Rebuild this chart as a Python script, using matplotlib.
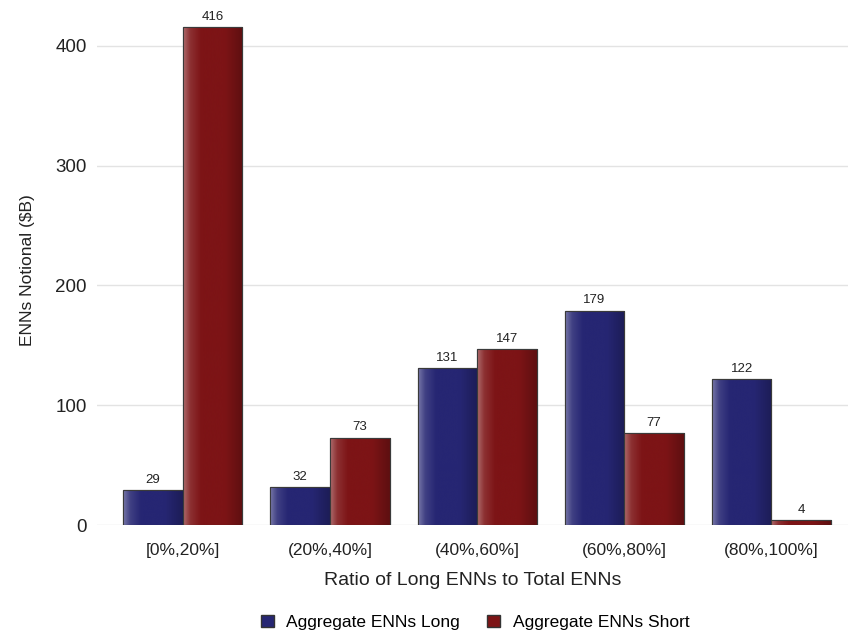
import numpy as np
import matplotlib
matplotlib.use("Agg")
import matplotlib.pyplot as plt
import matplotlib.colors as mc
from matplotlib.colors import LinearSegmentedColormap
from matplotlib.patches import Patch

categories = ["[0%,20%]", "(20%,40%]", "(40%,60%]", "(60%,80%]", "(80%,100%]"]
long_vals = [29, 32, 131, 179, 122]
short_vals = [416, 73, 147, 77, 4]
series_names = ["Aggregate ENNs Long", "Aggregate ENNs Short"]
yticks = [0, 100, 200, 300, 400]

plt.rcParams['font.family'] = ['Liberation Sans', 'DejaVu Sans']

fig = plt.figure(figsize=(8.48, 6.35), dpi=100)
ax = fig.add_axes([0.114, 0.1732, 0.886, 0.8016])

x = np.arange(len(categories))
w = 0.405
blue = "#262673"
red = "#7d1416"
txt = "#222222"

def gradient_cmap(base):
    b = np.array(mc.to_rgb(base))
    light = b + (1 - b) * 0.38
    mid = b + (1 - b) * 0.12
    dark = b * 0.75
    return LinearSegmentedColormap.from_list(
        "g", [(0, light), (0.12, mid), (0.3, b), (0.7, b), (1.0, dark)])

for vals, off, col in [(long_vals, -w / 2, blue), (short_vals, w / 2, red)]:
    bars = ax.bar(x + off, vals, width=w, color=col, edgecolor="#333333", linewidth=0.8, zorder=3)
    cmap = gradient_cmap(col)
    grad = np.linspace(0, 1, 256).reshape(1, -1)
    for b in bars:
        x0, y0 = b.get_x(), b.get_y()
        bw, bh = b.get_width(), b.get_height()
        im = ax.imshow(grad, cmap=cmap, aspect="auto", extent=[x0, x0 + bw, y0, y0 + bh],
                       zorder=3.5, interpolation="bicubic")
        im.set_clip_path(b)
        ax.bar(x0 + bw / 2, bh, width=bw, bottom=y0, fill=False, edgecolor="#3a3a3a",
               linewidth=0.8, zorder=4)
    for xi, v in zip(x + off, vals):
        ax.text(xi, v + 3.5, str(v), ha="center", va="bottom", fontsize=9.5, color=txt, zorder=5)

ax.set_xlim(-0.585, 4.52)
ax.set_ylim(0, 425)
ax.set_yticks(yticks)
ax.set_xticks(x)
ax.set_xticklabels(categories, fontsize=12.5, color=txt)
ax.tick_params(axis="y", labelsize=13.5, colors=txt, length=0, pad=7)
ax.tick_params(axis="x", length=0, pad=13)
ax.grid(axis="y", color="#e3e3e3", linewidth=1, zorder=0)
for s in ax.spines.values():
    s.set_visible(False)
ax.set_xlabel("Ratio of Long ENNs to Total ENNs", fontsize=14, color=txt, labelpad=10)
ax.set_ylabel("ENNs Notional ($B)", fontsize=12.5, color=txt, labelpad=15)

handles = [Patch(facecolor=blue, edgecolor="#333333"), Patch(facecolor=red, edgecolor="#333333")]
fig.legend(handles, series_names, loc="lower center", bbox_to_anchor=(0.56, -0.017), ncol=2,
           frameon=False, fontsize=12.5, handlelength=0.75, handleheight=0.75, columnspacing=1.6,
           handletextpad=0.7)

fig.savefig("out.png", dpi=100)
